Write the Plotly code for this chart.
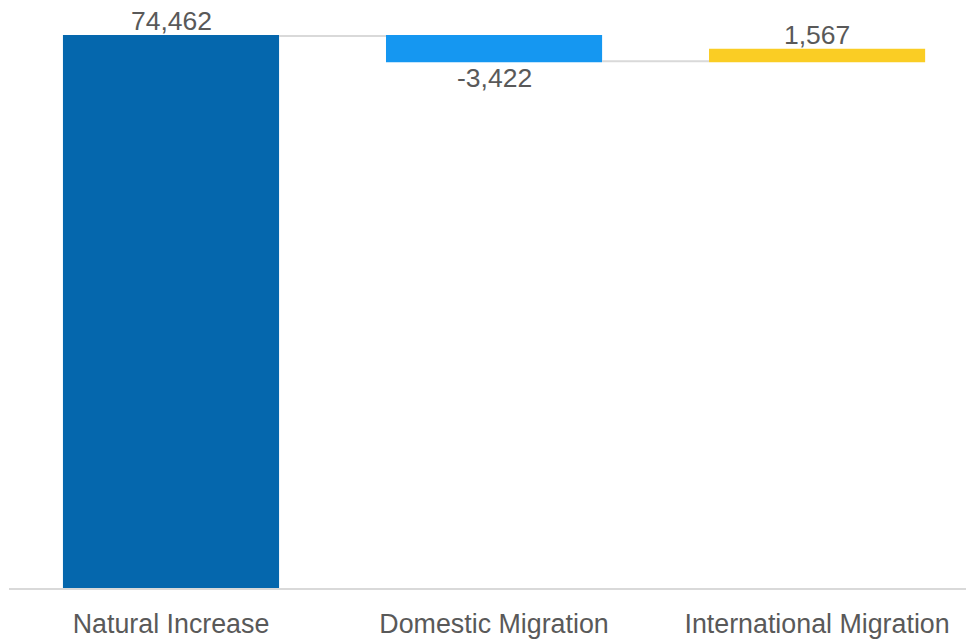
import plotly.graph_objects as go

# Components of population change
categories = ["Natural Increase", "Domestic Migration", "International Migration"]
values = [74462, -3422, 1567]
measures = ["absolute", "relative", "relative"]
labels = [f"{v:,}" for v in values]

FONT = "Liberation Sans, Arial, sans-serif"
TEXT_GRAY = "#595959"

fig = go.Figure(
    go.Waterfall(
        x=categories,
        y=values,
        measure=measures,
        width=[0.669] * len(categories),
        totals=dict(marker=dict(color="#0567AD", line=dict(width=0))),
        decreasing=dict(marker=dict(color="#1597F1", line=dict(width=0))),
        increasing=dict(marker=dict(color="#FACD24", line=dict(width=0))),
        connector=dict(mode="between", line=dict(color="#D9D9D9", width=2)),
        cliponaxis=False,
        hoverinfo="skip",
    )
)

# Value labels sit just past the end of each bar
running = 0
for cat, val, lab in zip(categories, values, labels):
    running += val
    fig.add_annotation(
        x=cat,
        y=running,
        text=lab,
        showarrow=False,
        yanchor="bottom" if val >= 0 else "top",
        yshift=-2 if val >= 0 else 0,
        font=dict(family=FONT, size=26.5, color=TEXT_GRAY),
    )

fig.update_layout(
    width=967,
    height=640,
    margin=dict(l=9, r=1, t=20, b=52),
    paper_bgcolor="white",
    plot_bgcolor="white",
    showlegend=False,
    font=dict(family=FONT, color=TEXT_GRAY),
    xaxis=dict(
        range=[-0.5015, 2.461],
        showgrid=False,
        zeroline=False,
        showline=True,
        linecolor="#D9D9D9",
        linewidth=2,
        ticks="",
        tickfont=dict(family=FONT, size=26.8, color=TEXT_GRAY),
        ticklabelstandoff=11,
    ),
    yaxis=dict(
        range=[0, 76621],
        showgrid=False,
        zeroline=False,
        showline=False,
        showticklabels=False,
        ticks="",
    ),
)

fig.write_html("out.html")
